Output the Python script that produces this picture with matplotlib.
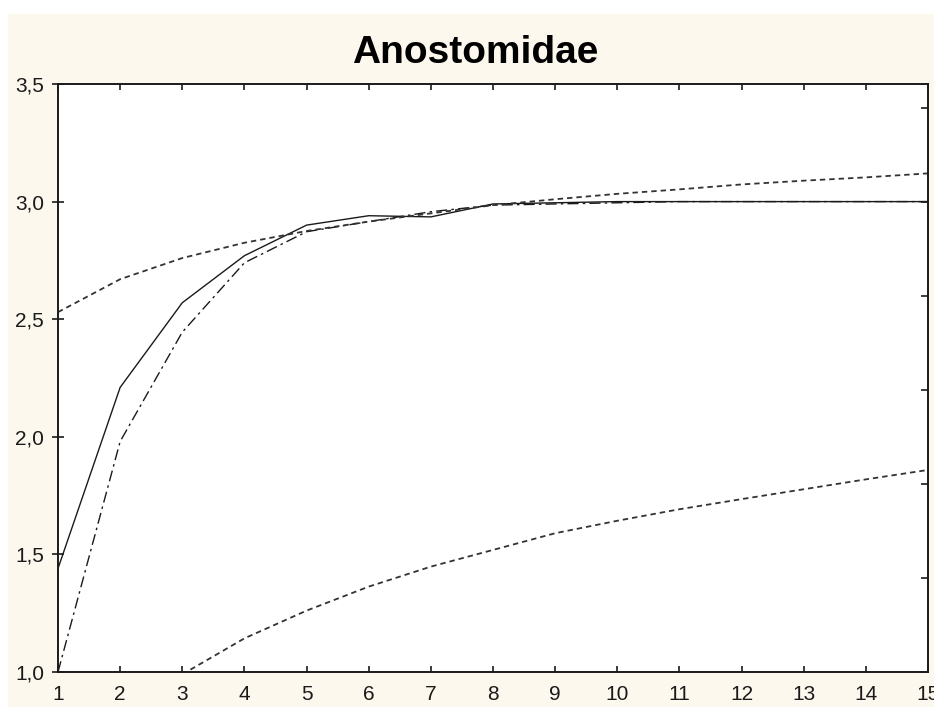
import matplotlib

matplotlib.use("Agg")
import matplotlib.pyplot as plt
from matplotlib.patches import Rectangle
from matplotlib.ticker import FixedLocator, FuncFormatter

x_values = list(range(1, 16))
solid_values = [1.44, 2.21, 2.57, 2.77, 2.90, 2.94, 2.935, 2.99, 2.995, 3.0, 3.0, 3.0, 3.0, 3.0, 3.0]
dashdot_values = [1.0, 1.98, 2.445, 2.74, 2.872, 2.915, 2.957, 2.985, 2.99, 2.995, 3.0, 3.0, 3.0, 3.0, 3.0]
upper_x = list(range(1, 16))
upper_values = [2.53, 2.67, 2.76, 2.825, 2.875, 2.915, 2.95, 2.985, 3.01, 3.033, 3.052, 3.073, 3.089, 3.103, 3.12]
lower_x = list(range(3, 16))
lower_values = [0.99, 1.143, 1.261, 1.363, 1.448, 1.519, 1.59, 1.643, 1.692, 1.735, 1.777, 1.819, 1.859]

y_ticks = [1.0, 1.5, 2.0, 2.5, 3.0, 3.5]
right_ticks = [1.0, 1.4, 1.8, 2.2, 2.6, 3.0, 3.4]
title = "Anostomidae"

BG = "#fdf8ee"
INK = "#1a1a1a"

plt.rcParams["font.family"] = ["Liberation Sans", "DejaVu Sans"]

W, H = 934, 707
fig = plt.figure(figsize=(W / 100, H / 100), dpi=100, facecolor="white")
fig.patches.append(
    Rectangle((8 / W, 0), 1 - 8 / W, 1 - 14 / H, transform=fig.transFigure,
              facecolor=BG, edgecolor="none", zorder=-10)
)

left, right, top, bottom = 58, 928, 84, 672
ax = fig.add_axes([left / W, 1 - bottom / H, (right - left) / W, (bottom - top) / H])
ax.set_facecolor("white")

ax.plot(x_values, solid_values, color=INK, linewidth=1.0, solid_joinstyle="miter")
ax.plot(x_values, dashdot_values, color=INK, linewidth=1.0, dashes=(8, 3, 1.8, 3))
ax.plot(upper_x, upper_values, color="#333333", linewidth=1.3, dashes=(3, 2.2))
ax.plot(lower_x, lower_values, color="#333333", linewidth=1.3, dashes=(3, 2.2))

ax.set_xlim(1, 15)
ax.set_ylim(1.0, 3.5)
ax.set_xticks(x_values)
ax.yaxis.set_major_locator(FixedLocator(y_ticks))
ax.yaxis.set_major_formatter(FuncFormatter(lambda v, _: f"{v:.1f}".replace(".", ",")))

for spine in ax.spines.values():
    spine.set_linewidth(1.4)
    spine.set_color(INK)

ax.tick_params(axis="x", direction="in", length=4, width=1.2, top=True, pad=9,
               labelsize=15, colors=INK)
ax.tick_params(axis="y", direction="inout", length=8, width=1.2, pad=6,
               labelsize=15, colors=INK)

twin = ax.twinx()
twin.set_ylim(1.0, 3.5)
twin.yaxis.set_major_locator(FixedLocator(right_ticks))
twin.tick_params(axis="y", direction="in", length=5, width=1.2, labelright=False, colors=INK)
for spine in twin.spines.values():
    spine.set_visible(False)

fig.text(475 / W, 1 - 63 / H, title, ha="center", va="baseline",
         fontsize=28, fontweight="bold", color="black")

fig.savefig("out.png", dpi=100, facecolor=fig.get_facecolor())
